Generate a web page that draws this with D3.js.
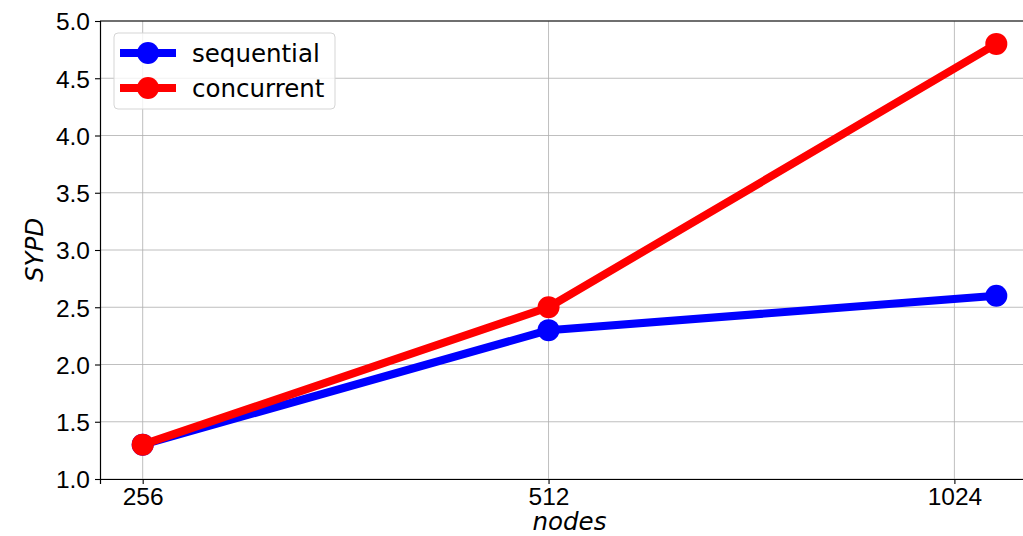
<!DOCTYPE html>
<html>
<head>
<meta charset="utf-8">
<script src="https://cdn.jsdelivr.net/npm/d3@7"></script>
<style>
  body { margin: 0; background: #fff; }
  svg { display: block; font-family: "DejaVu Sans", sans-serif; }
</style>
</head>
<body>
<svg id="chart" width="1023" height="536"></svg>
<script>
// data
const nodes = [256, 512, 1100]
const xTicks = [256, 512, 1024]
const yTicks = [1.0, 1.5, 2.0, 2.5, 3.0, 3.5, 4.0, 4.5, 5.0]
const sequential = [1.3, 2.3, 2.6]
const concurrent = [1.3, 2.5, 4.8]

const series = [
  { name: "sequential", color: "#0000ff", values: sequential },
  { name: "concurrent", color: "#ff0000", values: concurrent }
]

const fontSize = "24.5px"
const svg = d3.select("#chart")
const plot = { left: 100, right: 1039, top: 21, bottom: 479 }

// log2 x with matplotlib-like 5% margins
const lo = Math.log2(d3.min(nodes)), hi = Math.log2(d3.max(nodes))
const pad = (hi - lo) * 0.05
const x = d3.scaleLog().base(2)
  .domain([2 ** (lo - pad), 2 ** (hi + pad)])
  .range([plot.left, plot.right])

const y = d3.scaleLinear()
  .domain([1.0, 5.0])
  .range([plot.bottom, plot.top])

// grid
const grid = svg.append("g").attr("id", "grid")
grid.selectAll(".gy").data(yTicks).enter().append("line")
  .attr("x1", plot.left).attr("x2", plot.right)
  .attr("y1", d => y(d)).attr("y2", d => y(d))
  .attr("stroke", "#b0b0b0").attr("stroke-width", 1).attr("opacity", 0.8)
grid.selectAll(".gx").data(xTicks).enter().append("line")
  .attr("x1", d => x(d)).attr("x2", d => x(d))
  .attr("y1", plot.top).attr("y2", plot.bottom)
  .attr("stroke", "#b0b0b0").attr("stroke-width", 1).attr("opacity", 0.8)

// axes
const xAxis = svg.append("g")
  .attr("transform", `translate(0,${plot.bottom})`)
  .call(d3.axisBottom(x).tickValues(xTicks).tickFormat(d3.format("d")).tickSizeOuter(0).tickSize(5).tickPadding(4))
const yAxis = svg.append("g")
  .attr("transform", `translate(${plot.left},0)`)
  .call(d3.axisLeft(y).tickValues(yTicks).tickFormat(d3.format(".1f")).tickSizeOuter(0).tickSize(5).tickPadding(5))

for (const a of [xAxis, yAxis]) {
  a.select(".domain").attr("stroke", "#000").attr("stroke-width", 1.2)
  a.selectAll(".tick line").attr("stroke", "#000").attr("stroke-width", 1.1)
  a.selectAll("text").attr("fill", "#000").style("font-size", fontSize)
}
yAxis.selectAll("text").attr("dy", "0.36em")

// top spine
svg.append("line")
  .attr("x1", plot.left).attr("x2", plot.right)
  .attr("y1", plot.top).attr("y2", plot.top)
  .attr("stroke", "#000").attr("stroke-width", 1.2)

// axis labels
svg.append("text")
  .attr("x", (plot.left + plot.right) / 2).attr("y", 530)
  .attr("text-anchor", "middle")
  .style("font-size", fontSize).style("font-style", "italic")
  .text("nodes")
svg.append("text")
  .attr("transform", `translate(43,${(plot.top + plot.bottom) / 2}) rotate(-90)`)
  .attr("text-anchor", "middle")
  .style("font-size", fontSize).style("font-style", "italic")
  .text("SYPD")

// lines + markers
const line = d3.line().x((d, i) => x(nodes[i])).y(d => y(d))
const lines = svg.append("g").attr("id", "series")
series.forEach(s => {
  const g = lines.append("g")
  g.append("path")
    .datum(s.values)
    .attr("fill", "none")
    .attr("stroke", s.color)
    .attr("stroke-width", 8)
    .attr("stroke-linejoin", "round")
    .attr("d", line)
  g.selectAll("circle").data(s.values).enter().append("circle")
    .attr("cx", (d, i) => x(nodes[i]))
    .attr("cy", d => y(d))
    .attr("r", 11)
    .attr("fill", s.color)
})

// legend
const legend = svg.append("g").attr("id", "legend")
legend.append("rect")
  .attr("x", 114).attr("y", 33).attr("width", 221).attr("height", 76)
  .attr("rx", 4)
  .attr("fill", "#fff").attr("fill-opacity", 0.8)
  .attr("stroke", "#d5d5d5").attr("stroke-width", 1)
const items = legend.selectAll(".item").data(series).enter().append("g")
  .attr("transform", (d, i) => `translate(0,${53 + i * 35})`)
items.append("line")
  .attr("x1", 120).attr("x2", 176)
  .attr("stroke", d => d.color).attr("stroke-width", 8)
items.append("circle")
  .attr("cx", 148).attr("r", 11)
  .attr("fill", d => d.color)
items.append("text")
  .attr("x", 192).attr("dy", "0.36em")
  .style("font-size", fontSize)
  .text(d => d.name)
</script>
</body>
</html>
